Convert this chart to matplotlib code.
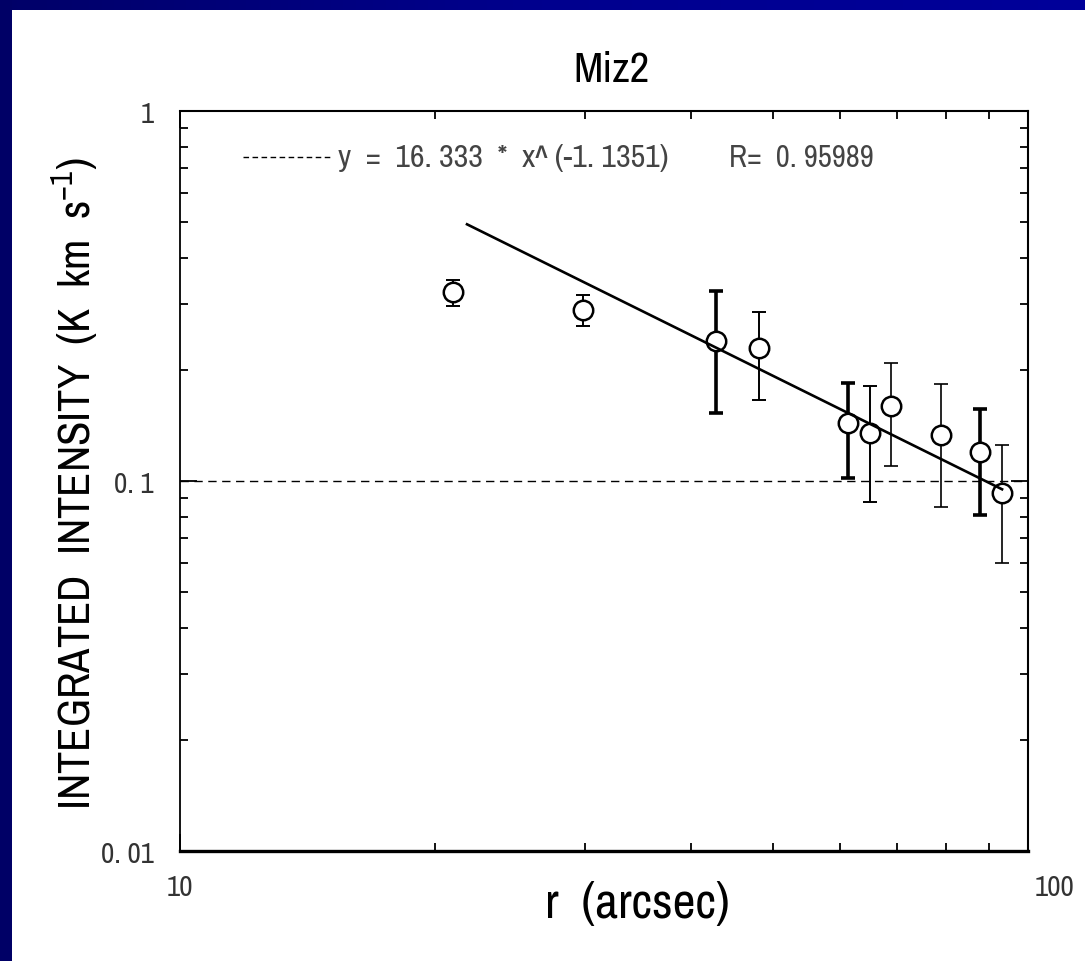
import numpy as np
import matplotlib
matplotlib.use('Agg')
import matplotlib.pyplot as plt
import matplotlib.transforms as mtransforms
import matplotlib.font_manager as fm
from matplotlib.ticker import LogLocator, FixedLocator, NullFormatter

# ── data ────────────────────────────────────────────────────────────────────
r_arcsec  = [21.0, 29.9, 42.9, 48.2, 61.3, 65.1, 68.9, 78.9, 87.8, 93.2]
intensity = [0.324, 0.290, 0.239, 0.229, 0.1435, 0.135, 0.1595, 0.133, 0.120, 0.093]
err_hi    = [0.349, 0.318, 0.326, 0.286, 0.184, 0.181, 0.2085, 0.183, 0.157, 0.125]
err_lo    = [0.297, 0.262, 0.153, 0.166, 0.102, 0.088, 0.110, 0.085, 0.081, 0.060]
err_lw    = [1.4, 1.4, 2.6, 1.4, 2.6, 1.4, 1.2, 1.2, 2.6, 1.2]

fit_a, fit_b = 16.333, -1.1351
fit_range    = [21.8, 93.2]
ref_level    = 0.1

ytick_vals   = [0.01, 0.1, 1]
ytick_labels = ['0. 01', '0. 1', '1']
xtick_vals   = [10, 100]
xtick_labels = ['10', '100']

# narrow sans face, like the original plotting package
installed = {f.name for f in fm.fontManager.ttflist}
narrow = next((n for n in ['Archivo Narrow', 'Barlow Semi Condensed', 'Asap Condensed']
               if n in installed), 'DejaVu Sans')
plt.rcParams['font.family'] = [narrow, 'DejaVu Sans']
plt.rcParams['mathtext.fontset'] = 'custom'
plt.rcParams['mathtext.rm'] = narrow
plt.rcParams['mathtext.it'] = narrow

fig = plt.figure(figsize=(10.85, 9.62), dpi=100)

# blue slide frame (top and left bands)
band_top = fig.add_axes([0, 1 - 11/962, 1, 11/962])
band_top.imshow(np.linspace(0, 1, 256)[None, :], aspect='auto',
                cmap=matplotlib.colors.LinearSegmentedColormap.from_list(
                    'navy', ['#000068', '#00008e', '#00009a']))
band_top.axis('off')
band_left = fig.add_axes([0, 0, 12/1085, 1])
band_left.set_facecolor('#000066')
band_left.set_xticks([]); band_left.set_yticks([])
for s in band_left.spines.values():
    s.set_visible(False)

ax = fig.add_axes([180/1085, 1 - 852/962, 848/1085, 740/962])
ax.set_xscale('log'); ax.set_yscale('log')
ax.set_xlim(10, 100); ax.set_ylim(0.01, 1)

# error bars + open circles
for x, y, lo, hi, lw in zip(r_arcsec, intensity, err_lo, err_hi, err_lw):
    ax.errorbar([x], [y], yerr=[[y - lo], [hi - y]], fmt='none',
                ecolor='black', elinewidth=lw, capsize=5, capthick=lw, zorder=2)
ax.plot(r_arcsec, intensity, 'o', ms=14, mfc='white', mec='black', mew=1.8, zorder=3)

# power-law fit
xf = np.logspace(np.log10(fit_range[0]), np.log10(fit_range[1]), 50)
ax.plot(xf, fit_a * xf ** fit_b, color='black', lw=1.9, zorder=4)

# reference level
ax.axhline(ref_level, color='black', lw=1.0, ls=(0, (6, 4)), zorder=1)

# legend-like annotation
pix = mtransforms.Affine2D().scale(1, -1).translate(0, 962)
ax.plot([243, 333], [158, 158], color='black', lw=1.0, ls=(0, (4, 2.5)),
        transform=pix, clip_on=False)
ax.text((338 - 180) / 848, (852 - 158) / 740, 'y  =  16. 333  *  x^ (-1. 1351)',
        transform=ax.transAxes, fontsize=23, color='#444444', va='center', ha='left')
ax.text((729 - 180) / 848, (852 - 158) / 740, 'R=  0. 95989',
        transform=ax.transAxes, fontsize=22, color='#444444', va='center', ha='left')

# ticks
ax.xaxis.set_major_locator(FixedLocator(xtick_vals))
ax.set_xticklabels(xtick_labels)
ax.xaxis.set_minor_locator(LogLocator(base=10, subs=np.arange(2, 10)))
ax.xaxis.set_minor_formatter(NullFormatter())
ax.yaxis.set_major_locator(FixedLocator(ytick_vals))
ax.set_yticklabels(ytick_labels)
ax.yaxis.set_minor_locator(LogLocator(base=10, subs=np.arange(2, 10)))
ax.yaxis.set_minor_formatter(NullFormatter())
ax.tick_params(which='both', direction='in', top=True, right=True, colors='black',
               labelcolor='#333333', labelsize=21)
ax.tick_params(which='major', length=12, width=1.3)
ax.tick_params(which='minor', length=6, width=1.3)
ax.tick_params(axis='x', pad=16)
ax.tick_params(axis='y', pad=19)
lab100 = ax.get_xticklabels()[-1]
lab100.set_transform(lab100.get_transform() +
                     mtransforms.ScaledTranslation(27 / 100, 0, fig.dpi_scale_trans))

for side, w in [('bottom', 2.4), ('left', 1.3), ('top', 1.5), ('right', 1.5)]:
    ax.spines[side].set_linewidth(w)

ax.set_xlabel('r  (arcsec)', fontsize=36)
ax.xaxis.set_label_coords((637 - 180) / 848, (852 - 905) / 740)
ax.xaxis.label.set_va('center')
ax.set_ylabel('INTEGRATED  INTENSITY  (K  km  s$^{-1}$)', fontsize=32)
ax.yaxis.set_label_coords((75 - 180) / 848, (852 - 484) / 740)
ax.yaxis.label.set_va('center')

ax.text((611 - 180) / 848, (852 - 70) / 740, 'Miz2', transform=ax.transAxes,
        fontsize=31, ha='center', va='center', color='black')

fig.savefig('out.png', dpi=100)
